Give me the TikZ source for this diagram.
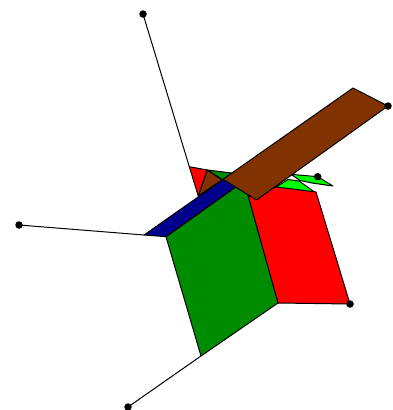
\documentclass[tikz,border=0pt]{standalone}
\tikzset{
  face/.style={draw=black,line width=1pt,line join=round},
  spoke/.style={draw=black,line width=1pt},
  dotnode/.style={circle,fill=black,inner sep=0pt,minimum size=7.5pt}
}
\definecolor{rd}{RGB}{255,0,0}
\definecolor{gn}{RGB}{0,140,0}
\definecolor{lg}{RGB}{0,255,0}
\definecolor{bl}{RGB}{0,0,140}
\definecolor{br}{RGB}{128,51,0}
\begin{document}
\begin{tikzpicture}[x=1pt,y=-1pt]
\useasboundingbox (0,0) rectangle (393,410);
\coordinate (a1) at (189.3,166.7);
\coordinate (a2) at (144,235);
\coordinate (a3) at (166,236.7);
\coordinate (a4) at (201,356);
\coordinate (a6) at (388,106);
\node[dotnode] (d1) at (143,14) {};
\node[dotnode] (d2) at (19,225) {};
\node[dotnode] (d3) at (128,407) {};
\draw[spoke] (d1.center) -- (a1);
\draw[spoke] (d2.center) -- (a2);
\draw[spoke] (d3.center) -- (a4);
\draw[face,fill=lg] (291,174.3) -- (317.7,176.7) -- (333,186) -- (312,183) -- (300,180.5) -- cycle;
\draw[face,fill=lg] (276,187) -- (288,179.5) -- (299,181) -- (315,192.3) -- cycle;
\draw[face,fill=rd] (240,200) -- (276,187) -- (316,192) -- (350,304) -- (278,303) -- cycle;
\draw[face,fill=rd] (a1) -- (207.3,170) -- (198.3,196) -- cycle;
\draw[face,fill=gn] (207.3,170) -- (231.7,173) -- (223,180) -- cycle;
\draw[face,fill=br] (207.3,170) -- (222,180) -- (198.3,196) -- cycle;
\draw[face,fill=gn] (a3) -- (244,181) -- (278,303) -- (a4) -- cycle;
\draw[face,fill=bl] (a2) -- (228,176) -- (244,181) -- (a3) -- cycle;
\draw[face,fill=br] (223,179.3) -- (353,88) -- (a6) -- (256.5,200) -- cycle;
\node[dotnode] (d4) at (350,304) {};
\node[dotnode] (d5) at (388,106) {};
\node[dotnode] (d6) at (317.7,176.7) {};
\end{tikzpicture}
\end{document}
